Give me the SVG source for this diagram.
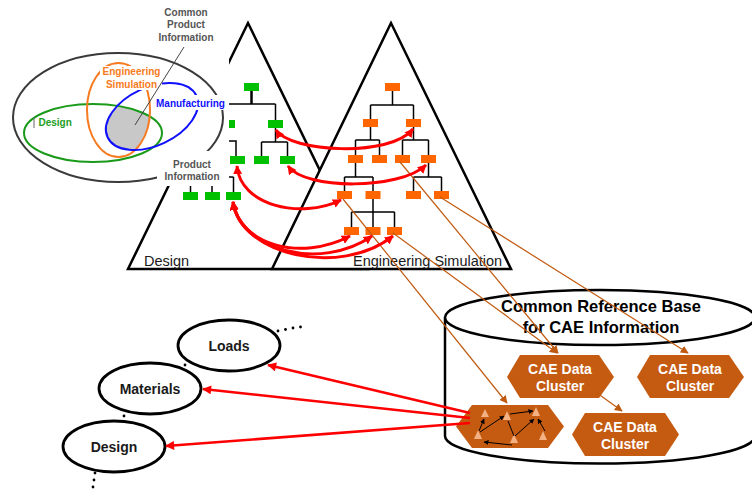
<svg xmlns="http://www.w3.org/2000/svg" width="752" height="492" viewBox="0 0 752 492">
<defs>
<style>
text{font-family:"Liberation Sans",Arial,Helvetica,sans-serif}
.tri{fill:#fff;stroke:#000;stroke-width:2.5;stroke-linejoin:miter}
.tl{fill:none;stroke:#000;stroke-width:1.5}
.gn{fill:#00c000}
.on{fill:#ff6600}
.trilabel{font-size:14.5px;fill:#1a1a1a}
.hex{fill:#c55a11}
.hext{font-size:14px;font-weight:bold;fill:#fff;text-anchor:middle}
.link{fill:none;stroke:#c05a10;stroke-width:1.2}
.red{fill:none;stroke:#ff0000;stroke-width:3}
.redl{fill:none;stroke:#ff0000;stroke-width:2.6}
.cat{fill:#fff;stroke:#000;stroke-width:2.8}
.catt{font-size:14px;font-weight:bold;fill:#1a1a1a;text-anchor:middle}
.vt{font-size:10px;font-weight:bold}
.mini{fill:#f4b183}
.ml{fill:none;stroke:#000;stroke-width:1}
</style>
<marker id="ahRed" viewBox="0 0 10 10" refX="9" refY="5" markerWidth="9" markerHeight="9" markerUnits="userSpaceOnUse" orient="auto-start-reverse"><path d="M0,0 L10,5 L0,10 z" fill="#ff0000"/></marker>
<marker id="ahRedL" viewBox="0 0 10 10" refX="9" refY="5" markerWidth="11" markerHeight="9" markerUnits="userSpaceOnUse" orient="auto"><path d="M0,0 L10,5 L0,10 z" fill="#ff0000"/></marker>
<marker id="ahBrown" viewBox="0 0 10 10" refX="9" refY="5" markerWidth="8" markerHeight="8" markerUnits="userSpaceOnUse" orient="auto"><path d="M0,0 L10,5 L0,10 z" fill="#c05a10"/></marker>
<marker id="ahMini" viewBox="0 0 10 10" refX="9" refY="5" markerWidth="5" markerHeight="5" markerUnits="userSpaceOnUse" orient="auto"><path d="M0,0 L10,5 L0,10 z" fill="#000"/></marker>
<clipPath id="clipGreen"><ellipse cx="93" cy="133" rx="69" ry="29"/></clipPath>
<clipPath id="clipOrange"><ellipse cx="118.5" cy="110" rx="31.5" ry="47"/></clipPath>
</defs>
<rect width="752" height="492" fill="#fff"/>

<!-- Design product structure -->
<g id="design-structure">
  <polygon class="tri" points="248,23 128,269 368,269"/>
  <path class="tl" d="M227.5,104 H275.5 M227.5,104 V120 M275.5,104 V120 M227.5,128 V141 M205,141 H236 V156 M275.5,128 V142 M261.5,142 H287.5 M261.5,142 V156 M287.5,142 V156 M190.5,177 H233.5 M190.5,177 V192 M212,177 V192 M233.5,177 V192"/>
  <path d="M251.5,91 V104" stroke="#000" stroke-width="2.5"/>
  <rect class="gn" x="244" y="83" width="15" height="8"/>
  <rect class="gn" x="220" y="120" width="15" height="8"/>
  <rect class="gn" x="268" y="120" width="15" height="8"/>
  <rect class="gn" x="230" y="156" width="15" height="8"/>
  <rect class="gn" x="254" y="156" width="15" height="8"/>
  <rect class="gn" x="280" y="156" width="15" height="8"/>
  <rect class="gn" x="183" y="192" width="15" height="8"/>
  <rect class="gn" x="205" y="192" width="15" height="8"/>
  <rect class="gn" x="226" y="192" width="15" height="8"/>
  <text class="trilabel" x="144" y="266">Design</text>
</g>

<!-- Engineering simulation structure -->
<g id="simulation-structure">
  <polygon class="tri" points="391,23 272,269 511,269"/>
  <path class="tl" d="M392.5,91 V105 M370.5,105 H413.5 M370.5,105 V119 M413.5,105 V119 M370.5,127 V140 M355.5,140 H379.5 M355.5,140 V155 M379.5,140 V155 M413.5,127 V140 M402.5,140 H428.5 M402.5,140 V155 M428.5,140 V155 M355.5,163 V177 M344.5,177 H373 M344.5,177 V191 M373,177 V191 M428.5,163 V177 M413.5,177 H441.5 M413.5,177 V191 M441.5,177 V191 M373,199 V227 M351.5,212 H394.5 M351.5,212 V227 M394.5,212 V227"/>
  <rect class="on" x="385" y="83" width="15" height="8"/>
  <rect class="on" x="363" y="119" width="15" height="8"/>
  <rect class="on" x="406" y="119" width="15" height="8"/>
  <rect class="on" x="348" y="155" width="15" height="8"/>
  <rect class="on" x="372" y="155" width="15" height="8"/>
  <rect class="on" x="395" y="155" width="15" height="8"/>
  <rect class="on" x="421" y="155" width="15" height="8"/>
  <rect class="on" x="337" y="191" width="15" height="8"/>
  <rect class="on" x="365.5" y="191" width="15" height="8"/>
  <rect class="on" x="406" y="191" width="15" height="8"/>
  <rect class="on" x="434" y="191" width="15" height="8"/>
  <rect class="on" x="344" y="227" width="15" height="8"/>
  <rect class="on" x="365.5" y="227" width="15" height="8"/>
  <rect class="on" x="387" y="227" width="15" height="8"/>
  <text class="trilabel" x="353" y="266">Engineering Simulation</text>
</g>

<!-- Product information Venn panel -->
<g id="venn">
  <rect x="0" y="0" width="229" height="186" fill="#fff"/>
  <ellipse cx="118" cy="117.5" rx="105" ry="64.5" fill="none" stroke="#3a3a3a" stroke-width="2"/>
  <g clip-path="url(#clipGreen)"><g clip-path="url(#clipOrange)">
    <ellipse cx="152" cy="116.5" rx="49" ry="29" transform="rotate(-25 152 116.5)" fill="#c8c8c8"/>
  </g></g>
  <ellipse cx="93" cy="133" rx="69" ry="29" fill="none" stroke="#1a9a1a" stroke-width="2"/>
  <ellipse cx="118.5" cy="110" rx="31.5" ry="47" fill="none" stroke="#f77b20" stroke-width="2"/>
  <ellipse cx="152" cy="116.5" rx="49" ry="29" transform="rotate(-25 152 116.5)" fill="none" stroke="#1010ff" stroke-width="2"/>
  <rect x="100" y="66" width="62" height="24" fill="#fff"/>
  <rect x="154" y="95" width="75" height="15" fill="#fff"/>
  <rect x="157" y="151" width="70" height="34" fill="#fff"/>
  <text class="vt" x="131.5" y="75" fill="#f77b20" text-anchor="middle">Engineering</text>
  <text class="vt" x="131.5" y="87.5" fill="#f77b20" text-anchor="middle">Simulation</text>
  <text class="vt" x="156" y="107" fill="#1010ff">Manufacturing</text>
  <text class="vt" x="38.5" y="126" fill="#1e9e1e">Design</text>
  <line x1="34" y1="117" x2="34" y2="128" stroke="#666" stroke-width="1"/>
  <text class="vt" x="186" y="16" fill="#555" text-anchor="middle">Common</text>
  <text class="vt" x="186" y="28" fill="#555" text-anchor="middle">Product</text>
  <text class="vt" x="186" y="40.5" fill="#555" text-anchor="middle">Information</text>
  <line x1="184" y1="47" x2="135" y2="125" stroke="#444" stroke-width="1"/>
  <text class="vt" x="192" y="168" fill="#555" text-anchor="middle">Product</text>
  <text class="vt" x="192" y="180" fill="#555" text-anchor="middle">Information</text>
</g>

<!-- Common reference base -->
<g id="reference-base">
  <path d="M445,317.5 V436 A155,27.5 0 0 0 755,436" fill="none" stroke="#000" stroke-width="2.5"/>
  <ellipse cx="600" cy="317.5" rx="155" ry="27.5" fill="#fff" stroke="#000" stroke-width="2.5"/>
  <text x="601" y="312" font-size="16.5" font-weight="bold" fill="#000" text-anchor="middle">Common Reference Base</text>
  <text x="601" y="333" font-size="16.5" font-weight="bold" fill="#000" text-anchor="middle">for CAE Information</text>
</g>

<g id="cluster-model">
  <polygon class="hex" points="456,426.5 472,405 548,405 564,426.5 548,448 472,448"/>
  <polygon class="mini" points="485,409 481,417 489,417"/>
  <polygon class="mini" points="507,411 503,420 511,420"/>
  <polygon class="mini" points="536,407 532,416 540,416"/>
  <polygon class="mini" points="478,430 474,439 482,439"/>
  <polygon class="mini" points="514,434 510,443 518,443"/>
  <polygon class="mini" points="543,431 539,440 547,440"/>
  <g class="ml" marker-end="url(#ahMini)">
    <path d="M479,431 L484,419"/>
    <path d="M480,432 L504,416"/>
    <path d="M510,414 L533,411"/>
    <path d="M515,436 L534,419"/>
    <path d="M545,431 L538,419"/>
    <path d="M512,445 L484,442"/>
  </g>
  <path class="ml" d="M508,421 L514,436"/>
</g>
<g id="cluster-1">
  <polygon class="hex" points="507,377 520,355 599,355 614,377 599,398 520,398"/>
  <text class="hext" x="560" y="374">CAE Data</text>
  <text class="hext" x="560" y="391">Cluster</text>
</g>
<g id="cluster-2">
  <polygon class="hex" points="637,377 650,355 729,355 744,377 729,398 650,398"/>
  <text class="hext" x="690" y="374">CAE Data</text>
  <text class="hext" x="690" y="391">Cluster</text>
</g>
<g id="cluster-3">
  <polygon class="hex" points="572,434.5 585,413 665,413 679,434.5 665,456 585,456"/>
  <text class="hext" x="625" y="432">CAE Data</text>
  <text class="hext" x="625" y="448.5">Cluster</text>
</g>

<!-- Information categories -->
<g id="loads">
  <ellipse class="cat" cx="229" cy="345.5" rx="51" ry="25.5"/>
  <text class="catt" x="229" y="351">Loads</text>
</g>
<g id="materials">
  <ellipse class="cat" cx="150" cy="388.5" rx="51" ry="25.5"/>
  <text class="catt" x="150" y="394">Materials</text>
</g>
<g id="design">
  <ellipse class="cat" cx="114" cy="446.5" rx="51" ry="25.5"/>
  <text class="catt" x="114" y="452">Design</text>
</g>
<g id="continuation-dots" fill="#000">
  <circle cx="278" cy="331" r="1.4"/><circle cx="285.5" cy="329.5" r="1.4"/><circle cx="293" cy="328" r="1.4"/><circle cx="300.5" cy="327" r="1.4"/>
  <circle cx="185" cy="365" r="1.4"/>
  <circle cx="124" cy="416" r="1.4"/>
  <circle cx="95" cy="473" r="1.4"/><circle cx="94" cy="480" r="1.4"/><circle cx="93" cy="487" r="1.4"/>
</g>

<!-- Connectors -->
<g id="connectors">
  <g class="link" marker-end="url(#ahBrown)">
    <path d="M343,199 L507,403"/>
    <path d="M393,233 L557,353"/>
    <path d="M400,162 L558,353"/>
    <path d="M440,197 L688,353"/>
    <path d="M597,393 L622,411"/>
  </g>
  <g class="red" marker-start="url(#ahRed)" marker-end="url(#ahRed)">
    <path d="M276,130 C290,152 390,158 413,129"/>
    <path d="M288,166 C305,190 400,190 426,165"/>
    <path d="M237,166 C240,205 300,220 341,200"/>
    <path d="M233,202 C240,245 300,262 350,236"/>
    <path d="M233,202 C240,250 320,272 372,236"/>
    <path d="M233,202 C240,255 340,278 393,236"/>
  </g>
  <g class="redl" marker-end="url(#ahRedL)">
    <path d="M470,413 L268,365"/>
    <path d="M470,418 L203,389"/>
    <path d="M470,423 L166,446"/>
  </g>
</g>
</svg>
